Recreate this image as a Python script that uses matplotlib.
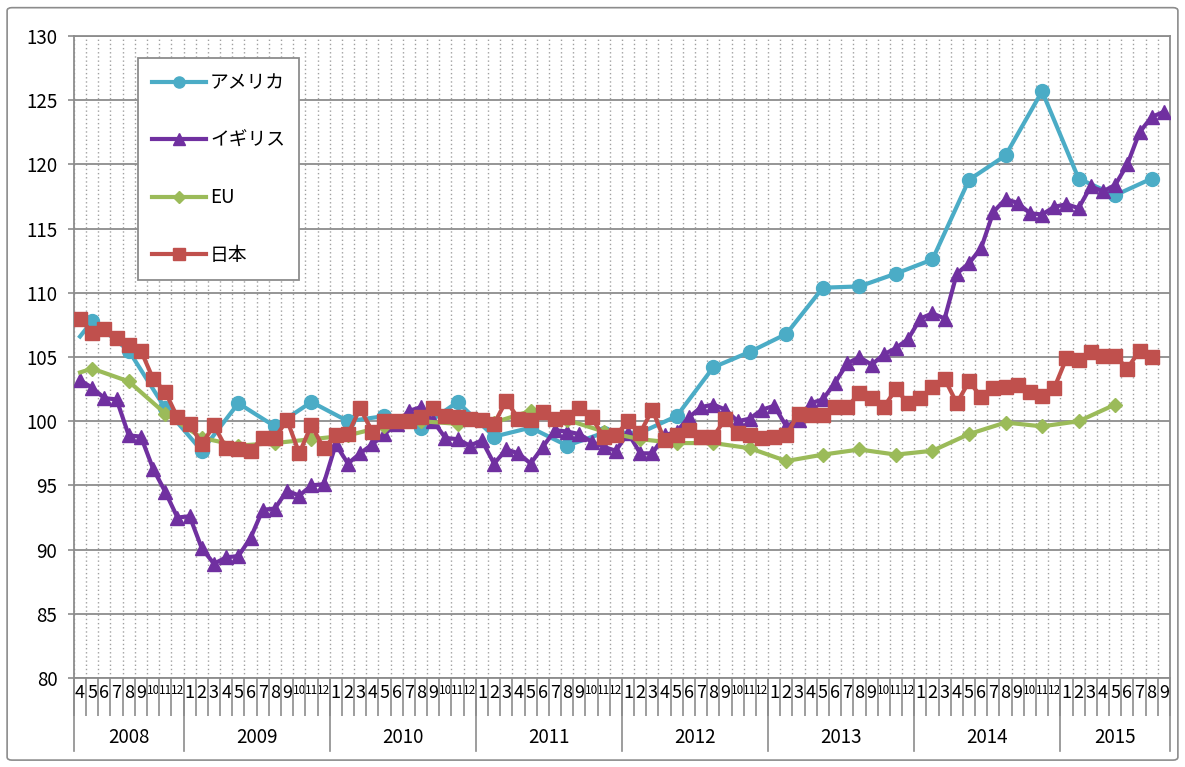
import pandas as pd
import matplotlib
matplotlib.use("Agg")
import matplotlib.pyplot as plt
from matplotlib.lines import Line2D
from matplotlib.patches import FancyBboxPatch
import matplotlib.transforms as mtransforms

plt.rcParams['font.family'] = ['Noto Sans CJK JP', 'DejaVu Sans']

# monthly axis: 2008-04 .. 2015-09
months = pd.period_range("2008-04", "2015-09", freq="M")
month_labels = [str(p.month) for p in months]
years = ["2008", "2009", "2010", "2011", "2012", "2013", "2014", "2015"]

# quarterly series (US, EU): first value is 2008-04, then every third month from 2008-05
q_months = ["2008-04"] + [str(p) for p in pd.period_range("2008-05", "2015-08", freq="M")[::3]]

us = [106.6, 107.8, 105.5, 101.0, 97.7, 101.4, 99.6, 101.5, 100.0, 100.4,
      99.5, 101.5, 98.8, 99.5, 98.1, 99.1, 99.1, 100.4, 104.2, 105.4,
      106.8, 110.4, 110.5, 111.5, 112.6, 118.8, 120.7, 125.7, 118.9, 117.6,
      118.9]

eu = [103.8, 104.1, 103.1, 100.6, 98.7, 98.1, 98.3, 98.6, 98.9, 99.6,
      100.0, 99.8, 99.9, 100.8, 100.1, 99.2, 98.6, 98.3, 98.3, 97.9,
      96.9, 97.4, 97.8, 97.4, 97.7, 99.0, 99.9, 99.6, 100.0, 101.3]

uk = [103.2, 102.6, 101.8, 101.7, 98.9, 98.8, 96.3, 94.5, 92.5,
      92.6, 90.1, 88.9, 89.4, 89.5, 90.9, 93.1, 93.2, 94.6, 94.2, 95.0, 95.1,
      98.2, 96.7, 97.5, 98.2, 99.0, 99.8, 100.8, 101.1, 100.0, 98.7, 98.6, 98.1,
      98.5, 96.7, 97.8, 97.5, 96.7, 98.0, 99.3, 99.2, 99.0, 98.4, 98.0, 97.7,
      99.1, 97.5, 97.5, 98.9, 99.2, 100.3, 101.1, 101.3, 100.9, 100.0, 100.2, 100.9,
      101.2, 99.6, 100.1, 101.4, 101.7, 103.0, 104.5, 105.0, 104.4, 105.2, 105.7, 106.4,
      108.0, 108.4, 108.0, 111.5, 112.3, 113.5, 116.3, 117.3, 117.0, 116.2, 116.1, 116.7,
      116.9, 116.6, 118.3, 117.9, 118.4, 120.0, 122.5, 123.7, 124.1]

japan = [108.0, 106.9, 107.2, 106.5, 105.9, 105.5, 103.3, 102.3, 100.3,
         99.8, 98.2, 99.7, 97.9, 97.8, 97.7, 98.7, 98.7, 100.1, 97.5, 99.7, 97.9,
         98.9, 99.0, 101.0, 99.2, 100.0, 100.0, 100.0, 100.3, 101.0, 100.4, 100.3, 100.2,
         100.1, 99.8, 101.6, 100.2, 100.1, 100.7, 100.2, 100.3, 101.0, 100.3, 98.8, 98.9,
         100.0, 99.1, 100.9, 98.5, 98.9, 99.3, 98.8, 98.8, 100.2, 99.1, 98.9, 98.7,
         98.8, 98.9, 100.6, 100.5, 100.5, 101.1, 101.1, 102.2, 101.8, 101.1, 102.5, 101.4,
         101.8, 102.7, 103.3, 101.4, 103.1, 101.9, 102.6, 102.7, 102.8, 102.3, 102.0, 102.6,
         104.9, 104.8, 105.4, 105.1, 105.1, 104.1, 105.5, 105.0]

c_us = "#4BACC6"
c_uk = "#7030A0"
c_eu = "#9BBB59"
c_jp = "#C0504D"
grid_c = "#8C8C8C"

pos = {str(p): i for i, p in enumerate(months)}
q_x = [pos[m] for m in q_months]

fig = plt.figure(figsize=(11.85, 7.67), dpi=100)
ax = fig.add_axes([0.0624, 0.1160, 0.9249, 0.8370])

# outer chart border
fig.patches.append(FancyBboxPatch((0.006, 0.009), 0.988, 0.981, boxstyle="round,pad=0,rounding_size=0.004",
                                  transform=fig.transFigure, fill=False, edgecolor="#8C8C8C", lw=1.2))

ax.plot(q_x[:len(us)], us, color=c_us, lw=3, marker="o", ms=10, markevery=list(range(1, len(us))),
        solid_joinstyle="round", zorder=3)
ax.plot(range(len(uk)), uk, color=c_uk, lw=3, marker="^", ms=10, zorder=4)
ax.plot(q_x[:len(eu)], eu, color=c_eu, lw=3, marker="D", ms=7, markevery=list(range(1, len(eu))), zorder=5)
ax.plot(range(len(japan)), japan, color=c_jp, lw=3, marker="s", ms=9.5, zorder=6)

n = len(months)
ax.set_xlim(-0.5, n - 0.5)
ax.set_ylim(80, 130)
ax.set_yticks(range(80, 131, 5))
ax.tick_params(axis="y", labelsize=13.5, length=4, width=1.2, color=grid_c, pad=8)
ax.grid(axis="y", color=grid_c, lw=1.3)

# month ticks & labels (two-digit months squeezed into their slot)
ax.set_xticks(range(n))
ax.set_xticklabels(month_labels)
for lab, txt in zip(ax.get_xticklabels(), month_labels):
    lab.set_fontsize(8.5 if len(txt) > 1 else 13)
ax.tick_params(axis="x", which="major", length=0, pad=4)
bounds = [i - 0.5 for i in range(n + 1)]
ax.set_xticks(bounds, minor=True)
ax.tick_params(axis="x", which="minor", length=27, width=1.2, color=grid_c)
ax.grid(axis="x", which="minor", color="#A0A0A0", lw=1.0, ls=(0, (1, 2)))

# year separators and labels
trans = mtransforms.blended_transform_factory(ax.transData, ax.transAxes)
year_pos = [i for i, p in enumerate(months) if p.month == 1]
edges = [0] + year_pos + [n]
for e in edges:
    ax.plot([e - 0.5, e - 0.5], [0, -0.113], transform=trans, color=grid_c, lw=1.2, clip_on=False)
for k, y in enumerate(years):
    mid = (edges[k] + edges[k + 1]) / 2 - 0.5
    ax.text(mid, -0.092, y, transform=trans, ha="center", va="center", fontsize=13.5)

for s in ax.spines.values():
    s.set_color(grid_c)
    s.set_linewidth(1.3)
ax.set_axisbelow(True)

handles = [
    Line2D([], [], color=c_us, lw=3, marker="o", ms=8),
    Line2D([], [], color=c_uk, lw=3, marker="^", ms=8),
    Line2D([], [], color=c_eu, lw=3, marker="D", ms=6),
    Line2D([], [], color=c_jp, lw=3, marker="s", ms=8),
]
leg = ax.legend(handles, ["アメリカ", "イギリス", "EU", "日本"], loc="upper left",
                bbox_to_anchor=(0.0584, 0.9657), fontsize=13.5, labelspacing=1.95,
                handlelength=2.9, handletextpad=0.2, borderpad=0.75, borderaxespad=0,
                fancybox=False, framealpha=1, edgecolor=grid_c)
leg.get_frame().set_linewidth(1.3)

fig.savefig("out.png", dpi=100)
